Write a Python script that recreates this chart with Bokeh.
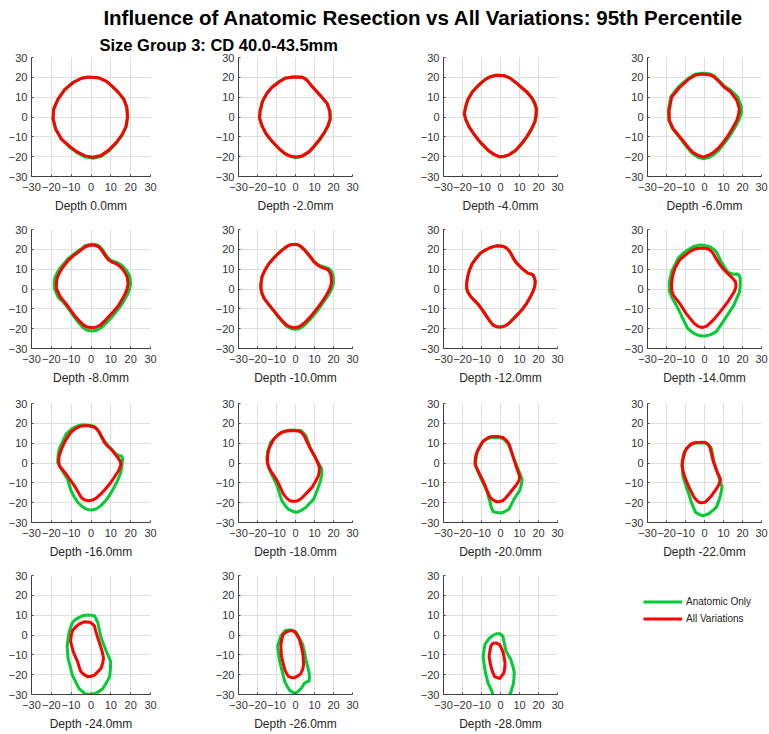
from bokeh.plotting import figure
from bokeh.layouts import column, row
from bokeh.models import Range1d, FixedTicker, Label, Legend, LegendItem
from bokeh.embed import file_html
from bokeh.resources import INLINE

# ---------------- data ----------------
TITLE = "Influence of Anatomic Resection vs All Variations: 95th Percentile"
SUBTITLE = "Size Group 3:  CD 40.0-43.5mm"
SERIES = ["Anatomic Only", "All Variations"]
TICKS = [-30, -20, -10, 0, 10, 20, 30]
DEPTHS = [0.0, -2.0, -4.0, -6.0, -8.0, -10.0, -12.0, -14.0,
          -16.0, -18.0, -20.0, -22.0, -24.0, -26.0, -28.0]

anat_d00 = [(0,20.1),(4,19.8),(8,17.9),(11,15.2),(14,12.2),(16.5,9),(18.1,5),(18.5,0),(17.7,-5),(15.8,-9),(12.8,-13.2),(9.2,-17),(5,-19.9),(1,-20.8),(-3,-20.1),(-7,-18),(-11,-15),(-15,-11.2),(-17.9,-6),(-19.2,-1),(-18.9,4),(-16.7,9),(-13.3,13.9),(-9,17.5),(-5,19.5),(-2,20.1)]
allv_d00 = [(0,20),(4,19.7),(8,17.8),(11,15.2),(14,12.2),(16.5,9),(18,5),(18.4,0),(17.6,-5),(15.6,-9),(12.6,-13),(9,-16.6),(5,-19.4),(1,-20.3),(-3,-19.6),(-7,-17.6),(-11,-14.6),(-15,-11),(-17.8,-6),(-19.1,-1),(-18.8,4),(-16.6,9),(-13.2,13.8),(-9,17.4),(-5,19.4),(-2,20)]

anat_d02 = [(-1,20.3),(3.7,20.1),(6,18.7),(8.5,15.7),(11,13.1),(13.6,10.4),(16.6,7),(18.2,3),(18.4,-1),(17.2,-4.6),(15.2,-8.2),(12.7,-11.7),(9.7,-15.2),(7.1,-17.8),(3.5,-19.9),(0,-20.5),(-3,-19.8),(-5.5,-18.6),(-8,-16.6),(-10.6,-14.1),(-13.1,-11.6),(-15.7,-8.3),(-17.7,-4.5),(-19,-0.5),(-18.7,3),(-17.4,8),(-15.1,12),(-12.3,15.1),(-8.5,17.9),(-5.5,19.6)]
allv_d02 = [(-1,20.2),(3.7,20),(6,18.6),(8.5,15.6),(11,13),(13.5,10.3),(16.5,7),(18,3),(18.2,-1),(17,-4.5),(15,-8),(12.5,-11.5),(9.5,-15),(7,-17.6),(3.5,-19.6),(0,-20.2),(-3,-19.6),(-5.5,-18.5),(-8,-16.5),(-10.6,-14),(-13,-11.5),(-15.6,-8.2),(-17.6,-4.5),(-18.9,-0.5),(-18.6,3),(-17.3,8),(-15,12),(-12.3,15),(-8.5,17.8),(-5.5,19.5)]

anat_d04 = [(-1.3,21.1),(2,20.9),(5,19.7),(8.8,16.9),(11.6,14.6),(14,12.7),(16.7,9.6),(18.3,6.7),(19.1,4.2),(18.9,0.5),(18.2,-2.5),(16.2,-6.6),(14,-10.1),(11.1,-13.7),(8,-17),(4.5,-19.2),(2,-20),(-0.5,-20.2),(-3.5,-19),(-6.5,-16.9),(-9.1,-14.4),(-11.5,-11.9),(-14.1,-8.6),(-16.6,-5),(-18.3,-1.5),(-19.1,1.7),(-18.3,5.5),(-17.4,8.4),(-14.9,12.7),(-12,15.6),(-9.7,17.7),(-7.5,19.3),(-5.5,20.3),(-3,21)]
allv_d04 = [(-1.3,21),(2,20.8),(5,19.6),(8.7,16.8),(11.5,14.5),(13.8,12.6),(16.5,9.5),(18,6.7),(18.8,4.2),(18.6,0.5),(18,-2.5),(16,-6.5),(13.8,-10),(11,-13.5),(7.9,-16.8),(4.5,-19),(2,-19.8),(-0.5,-20),(-3.5,-18.8),(-6.4,-16.8),(-9,-14.3),(-11.4,-11.8),(-14,-8.5),(-16.5,-5),(-18.2,-1.5),(-19,1.7),(-18.2,5.5),(-17.3,8.4),(-14.8,12.6),(-12,15.5),(-9.7,17.6),(-7.5,19.2),(-5.5,20.2),(-3,20.9)]

anat_d06 = [(0,22),(3,21.7),(5,20.7),(7,19),(10.4,15.6),(14,13.3),(17.5,10),(19.3,5.5),(19.5,2),(18,-1.7),(15.5,-6.2),(12.8,-10.3),(10,-13.8),(7.5,-16.8),(4.8,-19),(2,-20.5),(-0.5,-21.1),(-3.6,-20.2),(-6.6,-18.2),(-9.2,-15.3),(-11.7,-12.2),(-14.2,-9),(-16.8,-6),(-18.8,-1.7),(-19,3.4),(-17.8,10),(-15.5,13),(-13.5,15.4),(-10.8,17.6),(-8.2,19.7),(-4.8,21.6),(-2,22)]
allv_d06 = [(0,21.5),(3,21.2),(5,20.2),(7,18.5),(10.4,15),(13.8,12.6),(17,8.4),(18.3,4.2),(18,1.5),(17,-1.7),(14.5,-6),(12,-10),(9.5,-13.2),(7,-16),(4.5,-18),(2,-19.3),(-0.5,-20.2),(-3.5,-19.3),(-6.4,-17.6),(-9,-14.8),(-11.4,-11.8),(-14,-8.8),(-16.5,-5.9),(-18.5,-1.7),(-18.6,3.4),(-17.3,10),(-15,12.7),(-13,15),(-10.5,17.2),(-8,19.3),(-4.7,21.2),(-2,21.5)]

anat_d08 = [(0,22.6),(2.5,22.4),(4.2,21.6),(5.5,20.2),(6.8,18.4),(8,16.6),(9.3,15),(11,14),(13,13.4),(15,12.3),(16.8,10.7),(18.3,8.7),(19.6,6.2),(20,3),(19.5,0),(18.5,-2.5),(16.9,-5.4),(15,-8.6),(12.8,-11.4),(10.4,-14.2),(7.8,-17),(5.2,-19.5),(2.8,-20.8),(0.5,-21.2),(-2,-20.8),(-4,-19.5),(-6.2,-17),(-8.3,-14.3),(-10.4,-11.3),(-12.6,-8.4),(-14.6,-6),(-16.5,-4.2),(-18.4,0),(-18.5,3),(-18.2,5.8),(-16.8,8.6),(-15.2,11),(-11.8,15),(-9.2,17.2),(-6.5,19.2),(-4.7,20.5),(-3,21.8)]
allv_d08 = [(-0.3,22.2),(2,22),(3.9,21.3),(5.2,19.8),(6.4,18),(7.6,16.2),(8.9,14.6),(10.5,13.6),(12.3,12.9),(14,11.9),(15.6,10.4),(17,8.5),(18.2,6.2),(18.7,2.9),(18.2,0),(17.3,-2.2),(15.8,-5),(14,-8.1),(12,-10.6),(9.7,-13.1),(7.2,-15.8),(4.7,-18.2),(2.5,-19.3),(0.5,-19.5),(-1.8,-19.2),(-3.7,-18.2),(-5.8,-16.2),(-7.9,-13.9),(-10,-11),(-12.1,-8.1),(-14,-5.8),(-15.5,-3.9),(-17.5,0.3),(-17.4,3),(-17.1,5.4),(-16,8),(-14.6,10.4),(-11.3,14.6),(-8.8,16.8),(-6.2,18.8),(-4.5,20),(-2.9,21.3)]

anat_d10 = [(-1.3,22.6),(1.2,22.4),(3,21.5),(4.7,20),(6.4,18.2),(8.1,16.2),(9.8,14),(11.5,12.6),(13.3,11.6),(15.5,11),(17.6,10.3),(19.2,8.6),(19.9,6.2),(20,2.9),(19,0),(17.2,-3.2),(15,-6.3),(12.8,-9.3),(10.2,-12.5),(7.6,-15.5),(5.3,-17.8),(3.3,-19.3),(1.2,-20.2),(-0.5,-20.3),(-2.8,-19.8),(-4.9,-18.6),(-7,-16.5),(-9.1,-14.1),(-11.1,-11.5),(-13.2,-9),(-15,-6.9),(-16.6,-4.7),(-17.7,-2.2),(-18.3,0.3),(-18.2,3),(-17.7,6.2),(-16.1,9.6),(-14,12.9),(-11.6,15.5),(-9,18),(-6.9,19.8),(-4.8,21.4),(-3,22.3)]
allv_d10 = [(-1.3,22.5),(1.2,22.3),(2.9,21.3),(4.5,19.8),(6.2,18),(7.9,16),(9.6,13.8),(11.2,12.4),(12.9,11.3),(15,10.5),(17.1,9.6),(18.3,8),(18.8,6.2),(18.9,2.9),(18,0),(16.3,-3),(14.3,-6),(12.1,-8.9),(9.6,-11.9),(7.1,-14.8),(4.8,-17),(2.9,-18.5),(1,-19.3),(-0.5,-19.5),(-2.7,-19.1),(-4.7,-18.2),(-6.8,-16.2),(-8.9,-13.9),(-11,-11.4),(-13.1,-8.9),(-14.9,-6.8),(-16.5,-4.7),(-17.6,-2.2),(-18.2,0.3),(-18.1,3),(-17.6,6.2),(-16,9.6),(-13.9,12.9),(-11.5,15.5),(-8.9,18),(-6.8,19.7),(-4.7,21.3),(-3,22.2)]

anat_d12 = [(-1.3,21.8),(1,21.6),(2.9,20.8),(4.4,19.5),(5.4,18),(6.6,15.8),(7.9,13.8),(9.6,12),(11.3,10.4),(13,9),(14.6,7.9),(16,7.6),(17.1,7.1),(17.9,5.5),(18.3,3.7),(18,1.2),(17.1,-1.3),(15.6,-4.2),(13.8,-7.2),(11.8,-9.8),(9.6,-12.3),(7,-14.8),(4.5,-17.3),(2.4,-18.6),(0.3,-19.2),(-2,-19),(-3.9,-18.2),(-5.6,-16.2),(-7.2,-13.9),(-9.2,-11),(-11.4,-8.1),(-13.5,-6),(-15.6,-3.9),(-16.9,-2),(-17.8,0.3),(-17.8,3),(-17.3,6.2),(-16.3,9.6),(-14.8,12.9),(-12.8,15.5),(-10.6,18),(-8,19.6),(-5.5,20.8),(-3.3,21.5)]
allv_d12 = [(-1.3,21.8),(1,21.6),(2.9,20.8),(4.4,19.5),(5.4,18),(6.6,15.8),(7.9,13.8),(9.6,12),(11.3,10.4),(13,9),(14.6,7.9),(16,7.6),(17.1,7.1),(17.9,5.5),(18.3,3.7),(18,1.2),(17.1,-1.3),(15.6,-4.2),(13.8,-7.2),(11.8,-9.8),(9.6,-12.3),(7,-14.8),(4.5,-17.3),(2.4,-18.6),(0.3,-19.2),(-2,-19),(-3.9,-18.2),(-5.6,-16.2),(-7.2,-13.9),(-9.2,-11),(-11.4,-8.1),(-13.5,-6),(-15.6,-3.9),(-16.9,-2),(-17.8,0.3),(-17.8,3),(-17.3,6.2),(-16.3,9.6),(-14.8,12.9),(-12.8,15.5),(-10.6,18),(-8,19.6),(-5.5,20.8),(-3.3,21.5)]

anat_d14 = [(-3,22.2),(0,22),(2.9,21.3),(4.6,20.2),(6.2,18.8),(7.5,16.3),(8.7,13.8),(10.4,11.2),(12.1,8.7),(13.8,7.8),(15.5,7.4),(17.1,7.6),(18.2,7),(18.8,5.4),(18.8,2),(18.5,-1.3),(17,-4.7),(15.5,-8.1),(13,-11.8),(10.4,-15.6),(8.3,-18.6),(6.2,-21.5),(3.3,-23),(0.3,-23.7),(-1.8,-23.6),(-3.9,-23.2),(-6.5,-21.8),(-8.9,-19.8),(-11,-15.8),(-13.1,-11.4),(-15.2,-7.6),(-17.3,-3.9),(-18.5,-1),(-18.5,1.2),(-18.3,4.5),(-17.3,8.7),(-15.6,12.2),(-13.9,15.5),(-11.5,17.8),(-8.9,19.7),(-6,21.3)]
allv_d14 = [(-2.2,20.5),(0,20.5),(2,20.2),(3.3,19.3),(4.5,18),(5.8,15.8),(7.1,13.8),(8.3,12),(9.6,10.4),(11.3,8.7),(13,7.1),(14.8,5.4),(16.3,3.7),(16.6,1.2),(15.8,-1),(14.6,-3),(12.6,-6),(10.4,-8.9),(8,-11.8),(5.4,-14.8),(3.2,-17),(1.2,-18.7),(-1.3,-19.5),(-3.5,-18.7),(-5.5,-17.3),(-7.6,-14.8),(-9.7,-12.3),(-11.4,-9.8),(-13.1,-7.2),(-14.9,-5),(-16.5,-3),(-17.3,-0.5),(-17.3,2.9),(-16.8,6.5),(-15.6,10.4),(-13.1,14.6),(-11,16.4),(-8.9,18),(-7.2,19.1),(-5.5,20),(-3.8,20.4)]

anat_d16 = [(-4.2,19.3),(-1.2,19),(1.7,18.5),(3.3,16.8),(5,13.9),(7,10.9),(9.2,7.9),(11,6.2),(12.6,4.5),(14,3.8),(15.6,3.4),(15.9,1.5),(15.6,-1.3),(15,-4.8),(13.4,-8.9),(11.4,-12.7),(9.2,-16.5),(7.2,-19.2),(5,-21.5),(2.9,-23),(0.8,-23.7),(-0.9,-23.6),(-2.5,-23.2),(-4.6,-21.8),(-6.7,-19.8),(-8.5,-17),(-10.1,-13.9),(-11,-11),(-11.8,-8.1),(-13.5,-5.5),(-15.1,-3),(-16.8,0.3),(-16.6,3.8),(-16,7.1),(-14.3,10.8),(-12.6,14.6),(-10.5,16.5),(-8.4,18),(-6.3,18.9)]
allv_d16 = [(-3.4,18.8),(-1,18.8),(1.7,18),(3,17),(4.2,15.5),(5.4,13),(6.7,10.4),(8.3,8.6),(10.1,7.1),(11.8,5),(13.4,2.9),(14.5,1.2),(15.1,-0.5),(14.6,-2.2),(13.9,-3.9),(12,-6.8),(10.1,-9.7),(7.6,-12.7),(5,-15.6),(2.9,-17.5),(0.8,-18.7),(-1.7,-19),(-3.4,-18.5),(-5,-17.3),(-6.6,-14.5),(-8.4,-11.4),(-10.5,-8.5),(-12.6,-5.5),(-14.3,-3.4),(-16,-1.3),(-16.3,1.2),(-16,3.7),(-14.8,7.2),(-13.4,10.4),(-11.8,13),(-10.1,15.5),(-8.4,16.9),(-6.7,18),(-5,18.6)]

anat_d18 = [(-2.2,16.6),(0.3,16.5),(2.9,16.3),(4.2,15.2),(5.4,13.8),(6.7,10.4),(7.9,7.1),(9.6,4.1),(11.3,1.2),(12.6,-0.9),(13.8,-3),(13.8,-6.4),(12.9,-9.7),(11.3,-14),(9.6,-18.2),(7.5,-20.3),(5.4,-22.4),(2.9,-24),(0.3,-24.9),(-1.8,-24.2),(-3.9,-23.2),(-5.6,-21.3),(-7.2,-19),(-8.5,-15.2),(-9.7,-11.4),(-11.8,-7.2),(-13.9,-3),(-14.6,-0.5),(-15.1,2),(-14.5,6.2),(-13.1,10.4),(-11,12.5),(-8.9,14.6),(-6,15.9),(-4,16.4)]
allv_d18 = [(-2.2,16.3),(0,16.3),(2,16),(3.3,15.2),(4.5,13.8),(5.8,11.2),(7.1,8.7),(8.7,5.8),(10.4,2.9),(11.6,0.3),(12.6,-2.2),(12.5,-4.4),(12.1,-6.4),(10.5,-9.3),(8.7,-12.3),(6.2,-14.8),(3.7,-17.3),(2,-18.6),(0.3,-19.3),(-1.4,-19.3),(-3,-19),(-4.8,-17.6),(-6.4,-15.6),(-8,-12.3),(-9.7,-8.9),(-11.4,-6.4),(-13.1,-3.9),(-14.2,-1.8),(-14.8,0.3),(-14.7,3.2),(-14.3,6.2),(-13,9.2),(-11.4,12.1),(-9.3,14),(-7.2,15.5),(-4.8,16.1)]

anat_d20 = [(-3,12.9),(-1,12.8),(1.2,12.4),(3,10.8),(4.5,8.7),(5.8,5.4),(7.1,2),(8.4,-1),(9.6,-3.9),(10.5,-6),(11.3,-8.1),(11,-11),(10.1,-13.9),(8.6,-16),(7.1,-18.2),(5.8,-20.7),(4.5,-23.2),(2.4,-24.5),(0.3,-25.2),(-1.8,-25),(-3.9,-24.5),(-4.9,-22.2),(-5.5,-19.8),(-6.4,-16.8),(-7.2,-13.9),(-8.9,-10.6),(-10.6,-7.2),(-11.9,-4.2),(-13.1,-1.3),(-12.9,2),(-12.3,5.4),(-10.6,8.4),(-8.9,11.3),(-6.6,12.3),(-4.8,12.8)]
allv_d20 = [(-3,13.4),(-1,13.3),(1.2,12.9),(3,11.5),(4.5,9.6),(5.4,7),(6.2,4.5),(7.4,0.8),(8.7,-3),(9.5,-5),(10.1,-7.2),(9.6,-9),(8.7,-10.6),(6.6,-13.1),(4.5,-15.6),(2.8,-17.5),(1.2,-19),(-0.5,-19.5),(-2.2,-19.5),(-4,-18.6),(-5.5,-17.3),(-6.9,-14.5),(-8.1,-11.4),(-9.7,-8),(-11.4,-4.7),(-12.5,-2.6),(-13.4,-0.5),(-13.3,2),(-12.8,4.5),(-11.4,7.5),(-9.7,10.4),(-8,11.8),(-6.4,12.9),(-4.7,13.3)]

anat_d22 = [(-3,10.1),(-1,10.2),(1.2,10.1),(2.6,8.7),(3.7,7.1),(4.4,3.7),(5,0.3),(6.4,-3.9),(7.9,-8.1),(8.6,-10.2),(9.2,-12.3),(8.8,-14.4),(8.4,-16.5),(7.4,-19.5),(6.2,-22.4),(4.2,-24.1),(2,-25.7),(0.3,-26.2),(-1.3,-26.6),(-3,-25.8),(-4.7,-24.9),(-6,-22),(-7.2,-19),(-8,-16.4),(-8.9,-13.9),(-10.2,-10.2),(-11.4,-6.4),(-11.7,-3),(-11.8,0.3),(-10.8,3.7),(-9.7,7.1),(-8,8.5),(-6.4,9.6),(-4.7,10)]
allv_d22 = [(-3,10.4),(-1.3,10.5),(0.3,10.4),(1.8,9.4),(2.9,7.9),(3.7,4.6),(4.5,1.2),(5.8,-2.2),(7.1,-5.5),(7.8,-6.8),(8.4,-8.1),(7.9,-10),(7.1,-11.8),(5.4,-14.2),(3.7,-16.5),(2,-18.2),(0.3,-19.8),(-1.4,-20),(-3,-19.8),(-4.3,-18.6),(-5.5,-17.3),(-6.8,-14.8),(-8.1,-12.3),(-9.4,-9.4),(-10.6,-6.4),(-11.3,-3.8),(-11.8,-1.3),(-11.4,2.1),(-10.6,5.4),(-9.1,7.6),(-7.2,9.6),(-5,10.3)]

anat_d24 = [(-1.7,10.1),(0,10),(1.7,9.7),(2.6,8),(3.4,6.3),(4.2,2.5),(5.1,-1.4),(6.4,-4.8),(7.7,-8.2),(8.8,-10.8),(9.9,-13.3),(9.8,-17),(9.4,-21),(7.8,-24),(6,-27),(4,-28.5),(1.7,-29.6),(-0.5,-29.8),(-2.6,-29.9),(-4.3,-28.5),(-6,-27),(-7.7,-23.6),(-9.4,-20.2),(-10.5,-16),(-11.6,-11.6),(-11.8,-8.6),(-12,-5.6),(-11.6,-2.2),(-11.1,1.2),(-10.3,3.8),(-9.4,6.3),(-7.8,7.8),(-6,8.9),(-4,9.8)]
allv_d24 = [(-1.7,6.7),(0,6.2),(1.7,4.6),(2.5,1.6),(3.4,-1.4),(4.3,-4),(5.1,-6.5),(5.8,-9),(6.3,-11.6),(5.9,-14.2),(5.1,-16.8),(3.4,-18.6),(1.7,-20.2),(0,-20.8),(-1.7,-21),(-3.5,-20),(-5.1,-18.5),(-6,-16),(-6.8,-13.3),(-8,-10.7),(-9,-8.2),(-9.7,-5.6),(-10.3,-3.1),(-10,-0.5),(-9.4,2.1),(-7.8,4),(-6,5.5),(-3.8,6.5)]

anat_d26 = [(-3.1,2.6),(-1.4,2.3),(0.3,1.5),(2,-1.6),(3.8,-4.8),(4.7,-8.6),(5.5,-12.5),(6.4,-16),(7.2,-19.3),(7.3,-21.2),(7.2,-23.1),(6,-23.6),(4.6,-24.4),(3.8,-25.7),(2.9,-27),(1.5,-28.3),(0,-29.6),(-1.6,-28.8),(-3.1,-27.9),(-4.4,-25.8),(-5.6,-23.6),(-6.5,-20.2),(-7.4,-16.8),(-8.1,-14.2),(-8.7,-11.6),(-9,-8.6),(-9.4,-5.6),(-8.6,-3),(-7.7,-0.5),(-6.7,0.8),(-5.6,2.1)]
allv_d26 = [(-3.1,2.1),(-1.8,2.1),(-0.5,1.7),(0.9,-0.2),(2.1,-2.2),(3,-5.6),(3.8,-9.1),(4.1,-12),(4.3,-15),(3.8,-17.3),(2.9,-19.3),(1.3,-20.6),(-0.5,-21.5),(-2,-21.4),(-3.6,-21),(-4.7,-19.4),(-5.6,-17.6),(-6.5,-14.2),(-7.4,-10.8),(-7.6,-7.8),(-7.7,-4.8),(-7.2,-2.2),(-6.5,0.3),(-4.8,1.6)]

anat_d28 = [(-1.4,0.9),(0,0.4),(1.2,-0.5),(2,-4.3),(2.9,-8.2),(4.2,-10.3),(5.5,-12.5),(6.4,-15.5),(7.2,-18.5),(7.1,-21.5),(6.8,-24.4),(6.2,-26.5),(5.5,-28.7),(4.5,-30.5),(3.5,-33),(-3.6,-33),(-3.8,-30.5),(-4.9,-27.5),(-6.5,-24.4),(-7.4,-21),(-8.2,-17.6),(-8.7,-14.2),(-9.1,-10.8),(-8.7,-7.8),(-8.2,-4.8),(-7,-3),(-5.6,-1.4),(-3.5,0)]
allv_d28 = [(-3.1,-3.9),(-1.8,-4.2),(-0.5,-4.8),(0.4,-6.5),(1.2,-8.2),(1.9,-11.2),(2.4,-14.2),(2.2,-16.8),(1.7,-19.3),(0.6,-20.6),(-0.5,-21.9),(-1.8,-21.5),(-3.1,-21),(-4,-19),(-4.8,-16.8),(-5.5,-13.8),(-6,-10.8),(-5.6,-8.2),(-5.1,-5.6),(-4.2,-4.4)]

ANATOMIC = [anat_d00, anat_d02, anat_d04, anat_d06, anat_d08, anat_d10, anat_d12, anat_d14,
            anat_d16, anat_d18, anat_d20, anat_d22, anat_d24, anat_d26, anat_d28]
ALLVAR = [allv_d00, allv_d02, allv_d04, allv_d06, allv_d08, allv_d10, allv_d12, allv_d14,
          allv_d16, allv_d18, allv_d20, allv_d22, allv_d24, allv_d26, allv_d28]

# ---------------- style / layout ----------------
GREEN = "#00cc33"
RED = "#ff0000"
FONT = "Liberation Sans"
AXIS_COLOR = "#404040"
GRID_COLOR = "#dedede"
TEXT_COLOR = "#333333"

FRAME = 119
COL_LEFT = [31, 21, 21, 21]
COL_W = [212, 205, 204, 148]          # sum 769
ROW_TOP = [5, 7, 7, 7]
ROW_H = [170, 174, 172, 166]
TITLE_H = 52                          # 52 + sum(ROW_H) = 734
TOTAL_W = sum(COL_W)


def closed(points):
    xs = [pt[0] for pt in points]
    ys = [pt[1] for pt in points]
    return xs + xs[:1], ys + ys[:1]


def make_panel(i):
    r, c = divmod(i, 4)
    w, h = COL_W[c], ROW_H[r]
    p = figure(width=w, height=h,
               x_range=Range1d(-30, 30), y_range=Range1d(-30, 30),
               min_border_left=COL_LEFT[c], min_border_right=w - COL_LEFT[c] - FRAME,
               min_border_top=ROW_TOP[r], min_border_bottom=h - ROW_TOP[r] - FRAME,
               output_backend="svg", toolbar_location=None,
               x_axis_label=f"Depth {DEPTHS[i]:.1f}mm")
    p.outline_line_color = None
    for ax in (p.xaxis[0], p.yaxis[0]):
        ax.ticker = FixedTicker(ticks=TICKS)
        ax.axis_line_color = AXIS_COLOR
        ax.major_tick_line_color = AXIS_COLOR
        ax.major_tick_in = 2
        ax.major_tick_out = 0
        ax.minor_tick_line_color = None
        ax.major_label_text_font = FONT
        ax.major_label_text_font_size = "11px"
        ax.major_label_text_color = TEXT_COLOR
        ax.major_label_standoff = 4
        ax.axis_label_text_font = FONT
        ax.axis_label_text_font_size = "12px"
        ax.axis_label_text_font_style = "normal"
        ax.axis_label_text_color = "#262626"
    p.xaxis[0].major_label_standoff = 6
    p.xaxis[0].axis_label_standoff = 5
    for g in (p.xgrid[0], p.ygrid[0]):
        g.ticker = FixedTicker(ticks=TICKS)
        g.grid_line_color = GRID_COLOR
        g.grid_line_width = 1
    gx, gy = closed(ANATOMIC[i])
    rx, ry = closed(ALLVAR[i])
    p.line(gx, gy, line_color=GREEN, line_width=3, line_join="round")
    p.line(rx, ry, line_color=RED, line_width=3, line_join="round")
    return p


figs = [make_panel(i) for i in range(len(DEPTHS))]

# legend in the empty 4th slot of the last row (same borders as its row neighbours)
lw, lh = COL_W[3], ROW_H[3]
l_top, l_bottom = ROW_TOP[3], lh - ROW_TOP[3] - FRAME
lp = figure(width=lw, height=lh, x_range=Range1d(0, 1), y_range=Range1d(0, 1),
            x_axis_type=None, y_axis_type=None,
            min_border_left=0, min_border_right=0,
            min_border_top=l_top, min_border_bottom=l_bottom,
            output_backend="svg", toolbar_location=None)
lp.outline_line_color = None
lp.xgrid.visible = False
lp.ygrid.visible = False
nan = float("nan")
g_r = lp.line(x=[nan], y=[nan], line_color=GREEN, line_width=3)
r_r = lp.line(x=[nan], y=[nan], line_color=RED, line_width=3)
LEG_LEFT, LEG_TOP, LEG_ITEM = 22, 24.5, 17          # pixels inside the cell
legend = Legend(items=[LegendItem(label=SERIES[0], renderers=[g_r]),
                       LegendItem(label=SERIES[1], renderers=[r_r])],
                location=(LEG_LEFT, (lh - l_bottom) - LEG_TOP - 2 * LEG_ITEM),
                glyph_width=39, glyph_height=LEG_ITEM, label_height=LEG_ITEM,
                label_standoff=4, spacing=0, padding=0, margin=0,
                border_line_color=None, background_fill_alpha=0,
                label_text_font=FONT, label_text_font_size="10px",
                label_text_color="#222222")
lp.add_layout(legend)

# title strip
tp = figure(width=TOTAL_W, height=TITLE_H,
            x_range=Range1d(0, TOTAL_W), y_range=Range1d(0, TITLE_H),
            x_axis_type=None, y_axis_type=None, min_border=0,
            output_backend="svg", toolbar_location=None)
tp.outline_line_color = None
tp.xgrid.visible = False
tp.ygrid.visible = False
tp.add_layout(Label(x=423, y=TITLE_H - 17, text=TITLE, text_align="center",
                    text_baseline="middle", text_font=FONT,
                    text_font_size="20.5px", text_font_style="bold", text_color="black"))
tp.add_layout(Label(x=99, y=TITLE_H - 44, text=SUBTITLE, text_align="left",
                    text_baseline="middle", text_font=FONT,
                    text_font_size="16.5px", text_font_style="bold", text_color="black"))

rows = [row(*figs[0:4]), row(*figs[4:8]), row(*figs[8:12]), row(*figs[12:15], lp)]
layout = column(tp, *rows)

open("out.html", "w").write(file_html(layout, INLINE))
